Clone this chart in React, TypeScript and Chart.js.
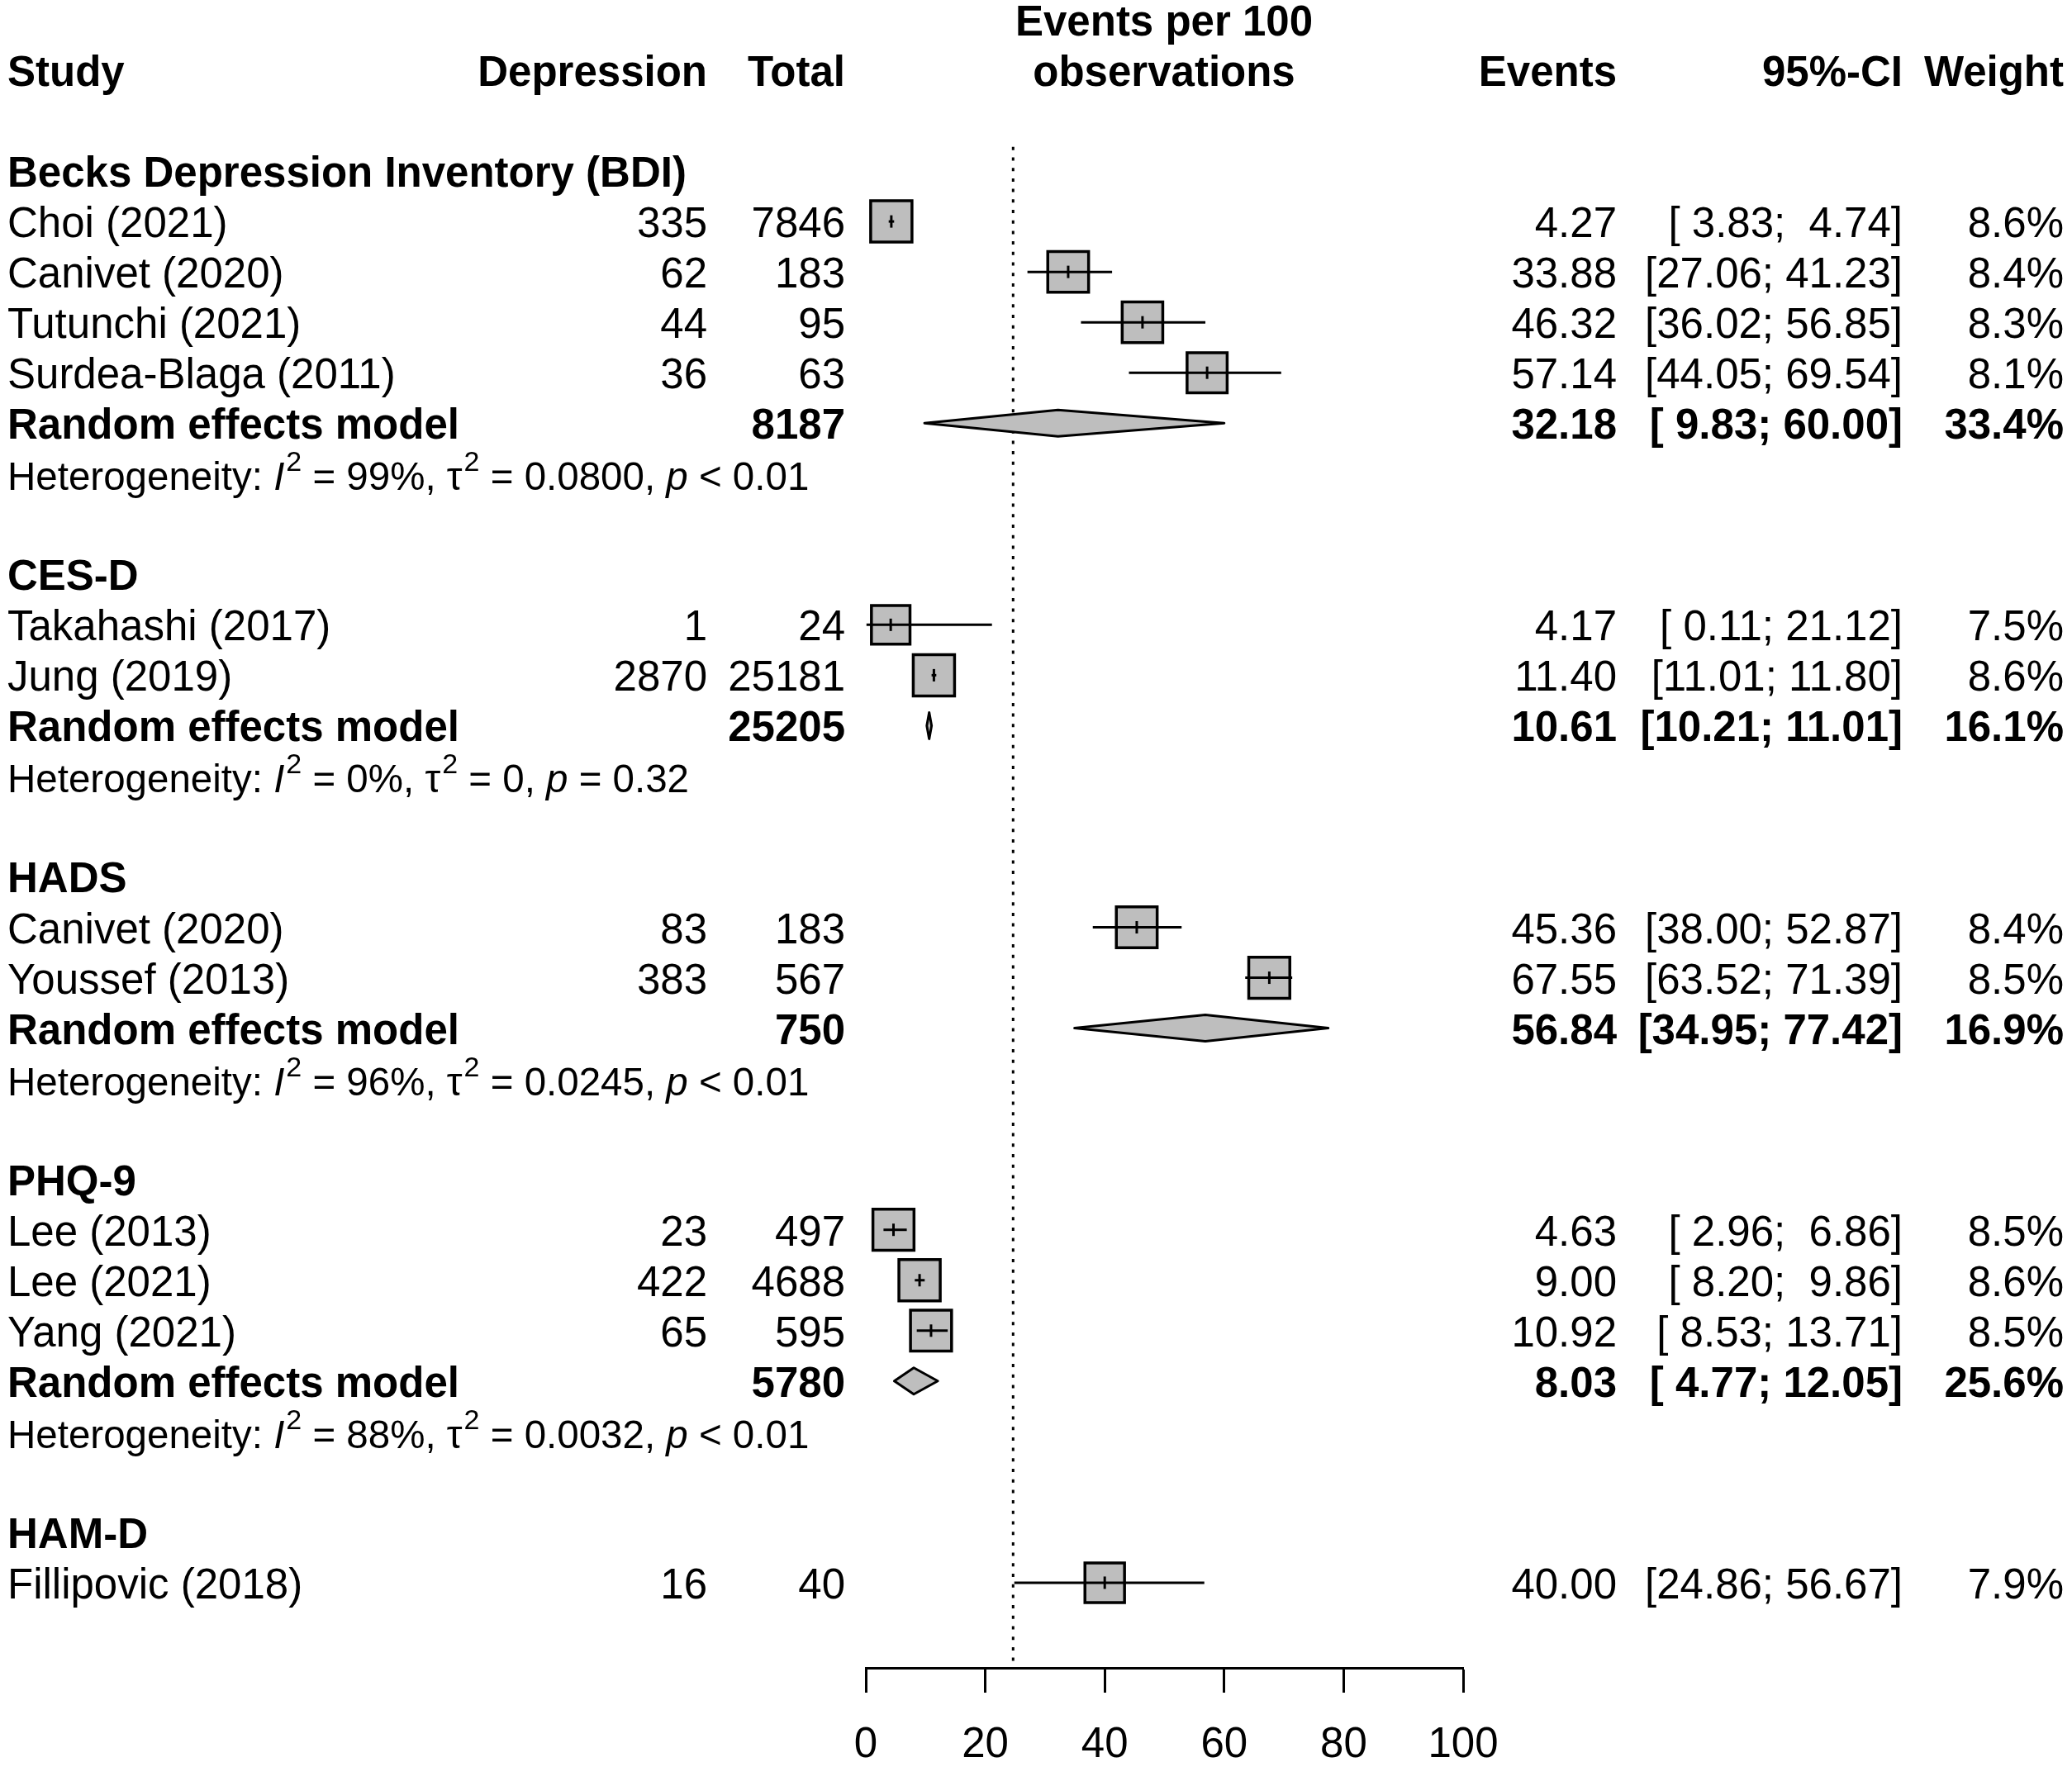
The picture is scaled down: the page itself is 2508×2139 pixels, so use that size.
import React, { useEffect, useRef } from 'react';
import { Chart, registerables } from 'chart.js';

Chart.register(...registerables);

// ---------- data ----------
const groupNames = ['Becks Depression Inventory (BDI)', 'CES-D', 'HADS', 'PHQ-9', 'HAM-D'];

const studyNames = [
  'Choi (2021)', 'Canivet (2020)', 'Tutunchi (2021)', 'Surdea-Blaga (2011)',
  'Takahashi (2017)', 'Jung (2019)',
  'Canivet (2020)', 'Youssef (2013)',
  'Lee (2013)', 'Lee (2021)', 'Yang (2021)',
  'Fillipovic (2018)',
];
const studyGroup = [0, 0, 0, 0, 1, 1, 2, 2, 3, 3, 3, 4];
const depressionCounts = [335, 62, 44, 36, 1, 2870, 83, 383, 23, 422, 65, 16];
const studyTotals = [7846, 183, 95, 63, 24, 25181, 183, 567, 497, 4688, 595, 40];
const studyEvents = [4.27, 33.88, 46.32, 57.14, 4.17, 11.40, 45.36, 67.55, 4.63, 9.00, 10.92, 40.00];
const studyLower = [3.83, 27.06, 36.02, 44.05, 0.11, 11.01, 38.00, 63.52, 2.96, 8.20, 8.53, 24.86];
const studyUpper = [4.74, 41.23, 56.85, 69.54, 21.12, 11.80, 52.87, 71.39, 6.86, 9.86, 13.71, 56.67];
const studyWeights = [8.6, 8.4, 8.3, 8.1, 7.5, 8.6, 8.4, 8.5, 8.5, 8.6, 8.5, 7.9];

const pooledTotals: (number | null)[] = [8187, 25205, 750, 5780, null];
const pooledEvents: (number | null)[] = [32.18, 10.61, 56.84, 8.03, null];
const pooledLower: (number | null)[] = [9.83, 10.21, 34.95, 4.77, null];
const pooledUpper: (number | null)[] = [60.00, 11.01, 77.42, 12.05, null];
const pooledWeights: (number | null)[] = [33.4, 16.1, 16.9, 25.6, null];
const hetI2: (string | null)[] = ['99%', '0%', '96%', '88%', null];
const hetTau2: (string | null)[] = ['0.0800', '0', '0.0245', '0.0032', null];
const hetP: (string | null)[] = ['< 0.01', '= 0.32', '< 0.01', '< 0.01', null];

const xTicks = [0, 20, 40, 60, 80, 100];
const referenceValue = 24.66;

// ---------- layout helpers ----------
const FONT = '"Liberation Sans", Arial, Helvetica, sans-serif';
const FS = 51;
const FS_HET = 47.5;
const GRAY = '#BEBEBE';

const studyRow: number[] = [];
const groupRow: number[] = [];
const pooledRow: (number | null)[] = [];
const hetRow: (number | null)[] = [];
(() => {
  let r = 2;
  groupNames.forEach((_, gi) => {
    groupRow[gi] = r++;
    studyNames.forEach((__, i) => {
      if (studyGroup[i] === gi) studyRow[i] = r++;
    });
    if (pooledEvents[gi] != null) {
      pooledRow[gi] = r++;
      hetRow[gi] = r++;
    } else {
      pooledRow[gi] = null;
      hetRow[gi] = null;
    }
    r++;
  });
})();

const pad5 = (v: number) => {
  const s = v.toFixed(2);
  return s.length < 5 ? ' '.repeat(5 - s.length) + s : s;
};
const ciText = (lo: number, hi: number) => `[${pad5(lo)}; ${pad5(hi)}]`;

const COL = {
  study: 9,
  depression: 856,
  total: 1023,
  events: 1957,
  ci: 2303,
  weight: 2498,
  axisCenter: 1409,
};

const textPlugin = {
  id: 'forestText',
  afterDatasetsDraw(chart: any) {
    const ctx: CanvasRenderingContext2D = chart.ctx;
    const ys = chart.scales.y;
    const base = (row: number) => ys.getPixelForValue(row) + 19;
    const put = (t: string, x: number, row: number, align: CanvasTextAlign, bold = false) => {
      ctx.font = `${bold ? 'bold ' : ''}${FS}px ${FONT}`;
      ctx.textAlign = align;
      ctx.textBaseline = 'alphabetic';
      ctx.fillStyle = '#000';
      ctx.fillText(t, x, base(row));
    };
    ctx.save();
    // headers
    put('Events per 100', COL.axisCenter, -1, 'center', true);
    put('Study', COL.study, 0, 'left', true);
    put('Depression', COL.depression, 0, 'right', true);
    put('Total', COL.total, 0, 'right', true);
    put('observations', COL.axisCenter, 0, 'center', true);
    put('Events', COL.events, 0, 'right', true);
    put('95%-CI', COL.ci, 0, 'right', true);
    put('Weight', COL.weight, 0, 'right', true);

    groupNames.forEach((g, gi) => put(g, COL.study, groupRow[gi], 'left', true));

    studyNames.forEach((s, i) => {
      const r = studyRow[i];
      put(s, COL.study, r, 'left');
      put(String(depressionCounts[i]), COL.depression, r, 'right');
      put(String(studyTotals[i]), COL.total, r, 'right');
      put(studyEvents[i].toFixed(2), COL.events, r, 'right');
      put(ciText(studyLower[i], studyUpper[i]), COL.ci, r, 'right');
      put(studyWeights[i].toFixed(1) + '%', COL.weight, r, 'right');
    });

    groupNames.forEach((_, gi) => {
      const r = pooledRow[gi];
      if (r == null) return;
      put('Random effects model', COL.study, r, 'left', true);
      put(String(pooledTotals[gi]), COL.total, r, 'right', true);
      put((pooledEvents[gi] as number).toFixed(2), COL.events, r, 'right', true);
      put(ciText(pooledLower[gi] as number, pooledUpper[gi] as number), COL.ci, r, 'right', true);
      put((pooledWeights[gi] as number).toFixed(1) + '%', COL.weight, r, 'right', true);

      const hr = hetRow[gi] as number;
      const segs: [string, 'n' | 'i' | 's'][] = [
        ['Heterogeneity: ', 'n'], ['I', 'i'], ['2', 's'], [` = ${hetI2[gi]}, `, 'n'],
        ['\u03C4', 'n'], ['2', 's'], [` = ${hetTau2[gi]}, `, 'n'], ['p', 'i'], [` ${hetP[gi]}`, 'n'],
      ];
      let x = COL.study;
      const yb = base(hr) + 1;
      ctx.textAlign = 'left';
      ctx.textBaseline = 'alphabetic';
      ctx.fillStyle = '#000';
      segs.forEach(([t, k]) => {
        if (k === 's') ctx.font = `${Math.round(FS_HET * 0.72)}px ${FONT}`;
        else if (k === 'i') ctx.font = `italic ${FS_HET}px ${FONT}`;
        else ctx.font = `${FS_HET}px ${FONT}`;
        ctx.fillText(t, k === 's' ? x + 2 : x, k === 's' ? yb - 23 : yb);
        x += ctx.measureText(t).width + (k === 's' ? 2 : 0);
      });
    });
    ctx.restore();
  },
};

export default function App() {
  const ref = useRef<HTMLCanvasElement | null>(null);

  useEffect(() => {
    if (!ref.current) return;
    const DIAMOND_HALF = 0.262;
    const datasets: any[] = [];

    // diamonds (pooled estimates)
    groupNames.forEach((_, gi) => {
      const r = pooledRow[gi];
      if (r == null) return;
      const lo = pooledLower[gi] as number, hi = pooledUpper[gi] as number, est = pooledEvents[gi] as number;
      datasets.push({
        type: 'line',
        order: 1,
        data: [
          { x: lo, y: r }, { x: est, y: r - DIAMOND_HALF }, { x: hi, y: r },
          { x: est, y: r + DIAMOND_HALF }, { x: lo, y: r },
        ],
        borderColor: '#000',
        borderWidth: 3,
        backgroundColor: GRAY,
        fill: 'shape',
        tension: 0,
        pointRadius: 0,
        borderJoinStyle: 'round',
        borderCapStyle: 'round',
      });
    });

    // center ticks of study boxes
    datasets.push({
      type: 'scatter',
      order: 2,
      data: studyEvents.map((e, i) => ({ x: e, y: studyRow[i] })),
      pointStyle: 'line',
      rotation: 90,
      pointRadius: 7.5,
      borderWidth: 3,
      borderColor: '#000',
      backgroundColor: '#000',
    });

    // CI lines
    studyEvents.forEach((_, i) => {
      datasets.push({
        type: 'line',
        order: 3,
        data: [{ x: studyLower[i], y: studyRow[i] }, { x: studyUpper[i], y: studyRow[i] }],
        borderColor: '#000',
        borderWidth: 3,
        pointRadius: 0,
        fill: false,
      });
    });

    // boxes
    datasets.push({
      type: 'scatter',
      order: 4,
      data: studyEvents.map((e, i) => ({ x: e, y: studyRow[i] })),
      pointStyle: 'rect',
      pointRadius: studyWeights.map((w) => (50 * Math.sqrt(w / 8.6)) / Math.SQRT2),
      backgroundColor: GRAY,
      borderColor: '#000',
      borderWidth: 3.5,
    });

    // reference line
    datasets.push({
      type: 'line',
      order: 5,
      data: [{ x: referenceValue, y: 1.52 }, { x: referenceValue, y: 31.689 }],
      borderColor: '#000',
      borderWidth: 3,
      borderDash: [4, 8.7],
      pointRadius: 0,
      fill: false,
    });

    const chart = new Chart(ref.current, {
      type: 'scatter',
      data: { datasets },
      options: {
        animation: false,
        responsive: false,
        devicePixelRatio: 1,
        events: [],
        layout: { autoPadding: false, padding: { left: 1048, right: 737, top: 0, bottom: 0 } },
        plugins: { legend: { display: false }, tooltip: { enabled: false } },
        scales: {
          x: {
            type: 'linear',
            position: 'bottom',
            min: 0,
            max: 100,
            afterBuildTicks: (s: any) => {
              s.ticks = xTicks.map((v) => ({ value: v }));
            },
            afterFit: (s: any) => {
              s.height = 120;
            },
            ticks: {
              font: { family: FONT, size: FS },
              color: '#000',
              padding: 33,
              maxRotation: 0,
              autoSkip: false,
            },
            grid: {
              drawOnChartArea: false,
              drawTicks: true,
              tickLength: 30,
              tickWidth: 3,
              tickColor: '#000',
            },
            border: { display: true, color: '#000', width: 3 },
          },
          y: {
            type: 'linear',
            display: false,
            reverse: true,
            min: -1.393,
            max: 31.689,
          },
        },
      } as any,
      plugins: [textPlugin],
    });
    return () => chart.destroy();
  }, []);

  return (
    <div style={{ position: 'absolute', left: 0, top: 0, width: 2508, height: 2139, background: '#fff' }}>
      <canvas ref={ref} width={2508} height={2139} style={{ width: 2508, height: 2139, display: 'block' }} />
    </div>
  );
}
